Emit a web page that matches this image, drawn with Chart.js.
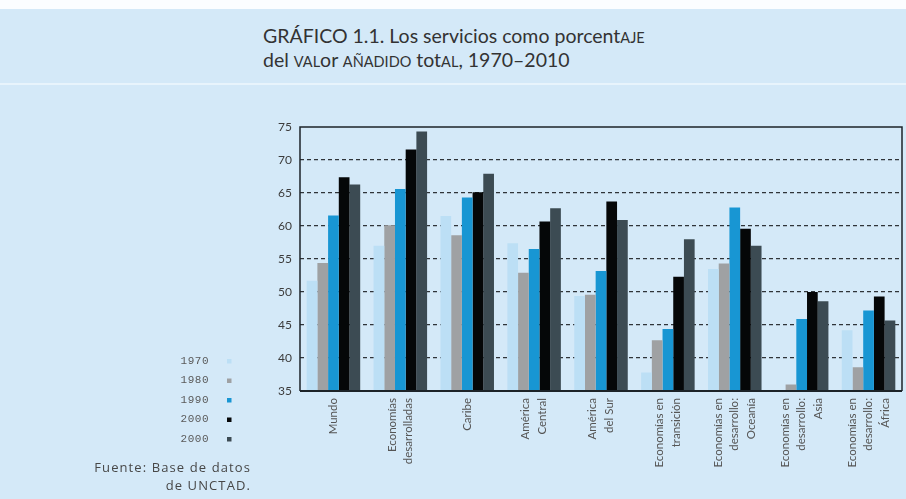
<!DOCTYPE html>
<html lang="es">
<head>
<meta charset="UTF-8">
<title>Servicios como porcentaje del valor añadido total</title>
<script src="https://cdn.jsdelivr.net/npm/chart.js@4"></script>
<style>
  html, body { margin: 0; padding: 0; }
  body { width: 906px; height: 499px; position: relative; overflow: hidden; background: #d4e9f8; font-family: Lato, "Open Sans", sans-serif; }
  .topband { position: absolute; left: 0; top: 0; width: 906px; height: 9px; background: #fbfdff; }
  .sep { position: absolute; left: 0; top: 83px; width: 906px; height: 2px; background: #e8f4fc; }
  .title { position: absolute; left: 263px; top: 25px; color: #333; font-size: 19.5px; line-height: 22px; }
  .title small { font-size: 14.5px; }
  #wrap { position: absolute; left: 0; top: 0; width: 906px; height: 499px; }
</style>
</head>
<body>
<div class="topband"></div>
<div class="sep"></div>
<div class="title">GRÁFICO 1.1. Los servicios como porcent<small>AJE</small><br>del <small>VAL</small>or <small>AÑADIDO</small> tot<small>AL</small>, 1970–2010</div>
<div id="wrap"><canvas id="chart" width="906" height="499"></canvas></div>
<script>
const regions = [
  "Mundo",
  ["Economías", "desarrolladas"],
  "Caribe",
  ["América", "Central"],
  ["América", "del Sur"],
  ["Economías en", "transición"],
  ["Economías en", "desarrollo:", "Oceanía"],
  ["Economías en", "desarrollo:", "Asia"],
  ["Economías en", "desarrollo:", "África"]
]
const yearLabels = ["1970", "1980", "1990", "2000", "2000"]
const s1970 = [51.7, 57.0, 61.5, 57.4, 49.4, 37.8, 53.5, null, 44.2]
const s1980 = [54.4, 60.1, 58.6, 52.9, 49.6, 42.7, 54.3, 36.0, 38.6]
const s1990 = [61.6, 65.6, 64.3, 56.5, 53.2, 44.4, 62.8, 45.9, 47.2]
const s2000 = [67.4, 71.6, 65.1, 60.7, 63.7, 52.3, 59.6, 50.0, 49.3]
const s2000b = [66.3, 74.3, 67.9, 62.7, 60.9, 58.0, 57.0, 48.6, 45.7]
const yTicks = [35, 40, 45, 50, 55, 60, 65, 70, 75]
const sourceLines = ["Fuente: Base de datos", "de UNCTAD."]

const colors = ["#bcdff5", "#9fa1a3", "#1896d3", "#050708", "#3c4b53"]
const allSeries = [s1970, s1980, s1990, s2000, s2000b]

const datasets = allSeries.map((d, i) => ({
  label: yearLabels[i],
  data: d,
  backgroundColor: colors[i],
  borderWidth: 0,
  barPercentage: 1,
  categoryPercentage: 0.8
}))

// frame, centred vertical category labels, legend and source note
const framePlugin = {
  id: "frame",
  afterDraw(chart) {
    const ctx = chart.ctx
    const a = chart.chartArea
    ctx.save()
    ctx.strokeStyle = "#1c2328"
    ctx.lineWidth = 1.5
    ctx.beginPath()
    ctx.moveTo(a.left, a.bottom)
    ctx.lineTo(a.left, a.top)
    ctx.lineTo(a.right, a.top)
    ctx.lineTo(a.right, a.bottom)
    ctx.stroke()
    ctx.lineWidth = 2
    ctx.beginPath()
    ctx.moveTo(a.left, a.bottom)
    ctx.lineTo(a.right, a.bottom)
    ctx.stroke()

    // category labels, rotated, lines centred on the tick
    const xs = chart.scales.x
    const lh = 16.7
    ctx.font = "11.5px Lato, sans-serif"
    ctx.fillStyle = "#555"
    ctx.textAlign = "right"
    ctx.textBaseline = "middle"
    chart.data.labels.forEach((lab, i) => {
      const lines = Array.isArray(lab) ? lab : [lab]
      const px = xs.getPixelForValue(i)
      lines.forEach((t, j) => {
        ctx.save()
        ctx.translate(px + (j - (lines.length - 1) / 2) * lh, a.bottom + 7)
        ctx.rotate(-Math.PI / 2)
        ctx.fillText(t, 0, 0)
        ctx.restore()
      })
    })

    // legend
    ctx.font = "11px 'Liberation Mono', monospace"
    ctx.letterSpacing = "0.5px"
    chart.data.datasets.forEach((ds, i) => {
      const y = 361 + i * 19.5
      ctx.fillStyle = "#5a5a5a"
      ctx.fillText(ds.label, 209, y)
      ctx.fillStyle = ds.backgroundColor
      ctx.fillRect(227, y - 2, 4.5, 4.5)
    })
    ctx.fillStyle = "#474747"
    ctx.font = "13px 'Open Sans', sans-serif"
    ctx.letterSpacing = "1.1px"
    sourceLines.forEach((t, i) => ctx.fillText(t, 251, 468 + i * 18))
    ctx.restore()
  }
}

new Chart(document.getElementById("chart"), {
  type: "bar",
  data: { labels: regions, datasets: datasets },
  options: {
    responsive: false,
    animation: false,
    layout: { padding: { left: 258, right: 4, top: 127, bottom: 0 } },
    plugins: {
      legend: { display: false },
      tooltip: { enabled: false }
    },
    scales: {
      x: {
        afterFit(s) {
          s.height = 108
          s.paddingLeft = 0
          s.paddingRight = 0
        },
        grid: { display: false },
        border: { display: false },
        ticks: { display: false }
      },
      y: {
        min: 35,
        max: 75,
        afterFit(s) {
          s.width = 42
          s.paddingTop = 0
          s.paddingBottom = 0
        },
        afterBuildTicks(s) { s.ticks = yTicks.map(v => ({ value: v })) },
        border: { display: false, dash: [4, 3] },
        grid: {
          drawTicks: false,
          color: c => (c.tick && (c.tick.value === 35 || c.tick.value === 75)) ? "rgba(0,0,0,0)" : "#2f3439",
          lineWidth: 1.2
        },
        ticks: {
          padding: 8,
          color: "#3c3c3c",
          font: { family: "Lato", size: 12 }
        }
      }
    }
  },
  plugins: [framePlugin]
})
</script>
</body>
</html>
